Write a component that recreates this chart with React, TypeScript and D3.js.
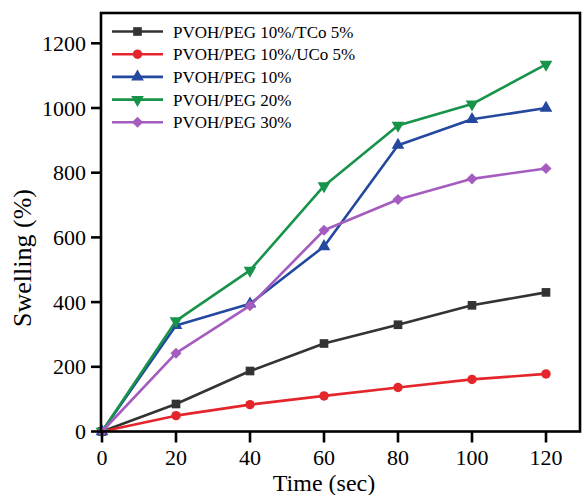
import React from "react";
import * as d3 from "d3";

const times = [0, 20, 40, 60, 80, 100, 120];
const seriesNames = [
  "PVOH/PEG 10%/TCo 5%",
  "PVOH/PEG 10%/UCo 5%",
  "PVOH/PEG 10%",
  "PVOH/PEG 20%",
  "PVOH/PEG 30%",
];
const tcoValues = [0, 85, 187, 272, 330, 390, 430];
const ucoValues = [0, 49, 83, 110, 136, 161, 178];
const peg10Values = [0, 328, 395, 572, 885, 965, 1000];
const peg20Values = [0, 342, 498, 759, 946, 1012, 1135];
const peg30Values = [0, 242, 389, 622, 717, 781, 813];
const xTicks = [0, 20, 40, 60, 80, 100, 120];
const yTicks = [0, 200, 400, 600, 800, 1000, 1200];

const colors = ["#333333", "#e4262c", "#24489e", "#17934a", "#a45cbf"];
const markerTypes = ["square", "circle", "up", "down", "diamond"];

const FONT = "'Liberation Serif', 'Times New Roman', serif";

function Marker({ type, x, y, color }: { type: string; x: number; y: number; color: string }) {
  let p: string | null = null;
  let rot = 0;
  if (type === "square") p = d3.symbol().type(d3.symbolSquare).size(75)();
  else if (type === "circle") p = d3.symbol().type(d3.symbolCircle).size(70)();
  else if (type === "up") p = d3.symbol().type(d3.symbolTriangle).size(70)();
  else if (type === "down") {
    p = d3.symbol().type(d3.symbolTriangle).size(70)();
    rot = 180;
  } else {
    p = d3.symbol().type(d3.symbolSquare).size(62)();
    rot = 45;
  }
  return <path d={p || ""} transform={`translate(${x},${y}) rotate(${rot})`} fill={color} />;
}

export default function App() {
  const W = 582;
  const H = 495;
  const left = 101;
  const right = 580;
  const top = 13;
  const bottom = 431.5;

  const x = d3.scaleLinear().domain([0, 120]).range([102, 546]);
  const y = d3.scaleLinear().domain([0, 1200]).range([431.5, 43.3]);

  const allSeries = [tcoValues, ucoValues, peg10Values, peg20Values, peg30Values];
  const line = d3
    .line<number>()
    .x((_, i) => x(times[i]))
    .y((d) => y(d));

  return (
    <svg
      width={W}
      height={H}
      style={{ position: "absolute", left: 0, top: 0, background: "#fff" }}
      fontFamily={FONT}
    >
      <rect x={0} y={0} width={W} height={H} fill="#fff" />
      {allSeries.map((vals, si) => (
        <g key={si}>
          <path d={line(vals) || ""} fill="none" stroke={colors[si]} strokeWidth={2.6} strokeLinejoin="round" />
          {vals.map((v, i) => (
            <Marker key={i} type={markerTypes[si]} x={x(times[i])} y={y(v)} color={colors[si]} />
          ))}
        </g>
      ))}
      <rect x={left} y={top} width={right - left} height={bottom - top} fill="none" stroke="#000" strokeWidth={2.6} />
      {xTicks.map((t) => (
        <g key={t}>
          <line x1={x(t)} x2={x(t)} y1={bottom} y2={bottom + 11} stroke="#000" strokeWidth={2.6} />
          <text x={x(t)} y={465} textAnchor="middle" fontSize={22} fill="#000">
            {t}
          </text>
        </g>
      ))}
      {yTicks.map((t) => (
        <g key={t}>
          <line x1={left - 10} x2={left} y1={y(t)} y2={y(t)} stroke="#000" strokeWidth={2.6} />
          <text x={86} y={y(t) + 7.5} textAnchor="end" fontSize={22} fill="#000">
            {t}
          </text>
        </g>
      ))}
      <text x={324} y={491} textAnchor="middle" fontSize={24} fill="#000">
        Time (sec)
      </text>
      <text transform={`translate(31,258) rotate(-90)`} textAnchor="middle" fontSize={26} fill="#000">
        Swelling (%)
      </text>
      {seriesNames.map((name, i) => {
        const ly = 31.5 + i * 22.7;
        return (
          <g key={name}>
            <line x1={112} x2={163} y1={ly} y2={ly} stroke={colors[i]} strokeWidth={2.6} />
            <Marker type={markerTypes[i]} x={137.5} y={ly} color={colors[i]} />
            <text x={173} y={ly + 6} fontSize={17} fill="#000">
              {name}
            </text>
          </g>
        );
      })}
    </svg>
  );
}
